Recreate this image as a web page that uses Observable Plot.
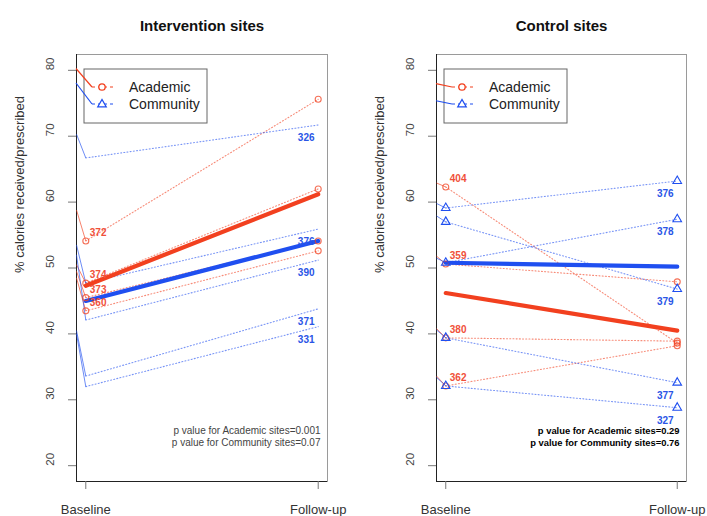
<!DOCTYPE html>
<html><head><meta charset="utf-8">
<script src="https://cdn.jsdelivr.net/npm/d3@7"></script>
<script src="https://cdn.jsdelivr.net/npm/@observablehq/plot@0.6"></script>
<style>
body{margin:0;background:#fff;font-family:"Liberation Sans",Arial,sans-serif}
#wrap{display:flex;width:707px;height:516px;overflow:hidden}
svg{display:block}
</style></head><body><div id="wrap"></div>
<script>
// ---------- data ----------
const timeLabels = ["Baseline", "Follow-up"];
const yTicks = [20, 30, 40, 50, 60, 70, 80];
const groups = ["Academic", "Community"];
const yAxisTitle = "% calories received/prescribed";

// Intervention sites
const intTitle = "Intervention sites";
const intAcadSites = ["372", "374", "373", "360"];
const intAcadBase = [54.1, 47.7, 45.5, 43.5];
const intAcadFollow = [75.6, 62.0, 54.1, 52.6];
const intAcadEdge = [58.8, 50.5, 49.5, 48.5];
const intCommSites = ["326", "376", "390", "371", "331"];
const intCommBase = [66.7, 47.7, 42.1, 33.6, 32.0];
const intCommFollow = [71.7, 55.9, 51.2, 43.8, 41.1];
const intCommEdge = [70.3, 53.5, 52.0, 40.5, 40.0];
const intAcadMean = [47.3, 61.2];
const intCommMean = [45.0, 54.1];
const intLegendEdge = [80.2, 78.0];
const intPText = ["p value for Academic sites=0.001", "p value for Community sites=0.07"];

// Control sites
const ctlTitle = "Control sites";
const ctlAcadSites = ["404", "359", "380", "362"];
const ctlAcadBase = [62.3, 50.6, 39.4, 32.1];
const ctlAcadFollow = [38.6, 47.9, 38.9, 38.2];
const ctlAcadEdge = [62.9, 51.8, 40.8, 33.6];
const ctlCommSites = ["376", "379", "378", "377", "327"];
const ctlCommBase = [59.1, 57.0, 50.8, 39.4, 32.1];
const ctlCommFollow = [63.2, 46.8, 57.4, 32.6, 28.8];
const ctlCommEdge = [59.8, 57.9, 51.5, 40.6, 33.4];
const ctlAcadMean = [46.2, 40.5];
const ctlCommMean = [50.8, 50.2];
const ctlLegendEdge = [77.9, 75.3];
const ctlPText = ["p value for Academic sites=0.29", "p value for Community sites=0.76"];

// ---------- styling ----------
const colors = {Academic: "#f2401f", Community: "#1f4ff0"};
const labelColors = {Academic: "#f0503a", Community: "#2a55e6"};
const pad = (a, b) => [a - (b - a) * 0.04, b + (b - a) * 0.04];
const xDomain = pad(1, 2);
const yDomain = pad(20, 80);
const FONT = "Liberation Sans, Arial, Helvetica, sans-serif";

function rows(group, sites, base, follow, edge) {
  return sites.map((s, i) => ({group, site: group + s, label: s, base: base[i], follow: follow[i], edge: edge[i]}));
}

function legendMark(edgeVals) {
  return (index, scales, values, dims) => {
    const ml = dims.marginLeft, mt = dims.marginTop;
    const g = d3.create("svg:g").attr("font-family", FONT);
    g.append("rect").attr("x", ml + 8).attr("y", mt + 15).attr("width", 123).attr("height", 54)
      .attr("fill", "white").attr("stroke", "#666").attr("stroke-width", 1);
    groups.forEach((grp, i) => {
      const cy = mt + 33 + i * 17;
      const c = colors[grp];
      g.append("line").attr("x1", ml).attr("y1", scales.y(edgeVals[i])).attr("x2", ml + 16).attr("y2", cy)
        .attr("stroke", c).attr("stroke-width", 1.2);
      g.append("line").attr("x1", ml + 16).attr("x2", ml + 37).attr("y1", cy).attr("y2", cy)
        .attr("stroke", c).attr("stroke-width", 1.2).attr("stroke-dasharray", "3,3");
      if (grp === "Academic") {
        g.append("circle").attr("cx", ml + 26).attr("cy", cy).attr("r", 3.2)
          .attr("fill", "white").attr("stroke", c).attr("stroke-width", 1.3);
      } else {
        const x = ml + 26;
        g.append("path").attr("d", `M${x},${cy - 4.5}L${x - 4.2},${cy + 2.8}L${x + 4.2},${cy + 2.8}Z`)
          .attr("fill", "white").attr("stroke", c).attr("stroke-width", 1.3);
      }
      g.append("text").attr("x", ml + 53).attr("y", cy).attr("dy", "0.35em")
        .attr("text-anchor", "start")
        .attr("font-size", 14).attr("fill", "#222").text(grp);
    });
    return g.node();
  };
}

function panel(cfg) {
  const acad = rows("Academic", cfg.acadSites, cfg.acadBase, cfg.acadFollow, cfg.acadEdge);
  const comm = rows("Community", cfg.commSites, cfg.commBase, cfg.commFollow, cfg.commEdge);
  const all = [...acad, ...comm];
  const lineData = all.flatMap(d => [{...d, t: 1, v: d.base}, {...d, t: 2, v: d.follow}]);
  const meanData = [
    {group: "Academic", t: 1, v: cfg.acadMean[0]}, {group: "Academic", t: 2, v: cfg.acadMean[1]},
    {group: "Community", t: 1, v: cfg.commMean[0]}, {group: "Community", t: 2, v: cfg.commMean[1]}
  ];
  const acadDots = acad.flatMap(d => [{t: 1, v: d.base}, {t: 2, v: d.follow}]);
  const commDots = cfg.commMarkers ? comm.flatMap(d => [{t: 1, v: d.base}, {t: 2, v: d.follow}]) : [];
  const pStyle = {
    frameAnchor: "bottom-right",
    fontSize: cfg.pBold ? 9.4 : 10,
    fill: cfg.pBold ? "#000" : "#444",
    fontWeight: cfg.pBold ? "bold" : "normal",
    textAnchor: "end"
  };

  return Plot.plot({
    width: cfg.width, height: 516,
    marginLeft: cfg.ml, marginRight: cfg.mr, marginTop: 54, marginBottom: 35,
    x: {domain: xDomain},
    y: {domain: yDomain},
    style: {fontFamily: FONT, background: "white", color: "#333", overflow: "visible"},
    marks: [
      Plot.frame({stroke: "#9a9a9a"}),
      Plot.ruleX([xDomain[0]], {stroke: "#222"}),
      Plot.ruleY([yDomain[0]], {stroke: "#222"}),
      Plot.axisY(yTicks, {tickSize: 8, tickFormat: () => "", label: null, stroke: "#777"}),
      Plot.text(yTicks, {y: d => d, frameAnchor: "left", dx: -26, rotate: -90, text: d => String(d), fontSize: 11.5, fill: "#444"}),
      Plot.text([yAxisTitle], {frameAnchor: "left", dx: -57, dy: 5, rotate: -90, fontSize: 13, fill: "#333"}),
      Plot.axisX([1, 2], {tickSize: 8, tickPadding: 15, tickFormat: d => timeLabels[d - 1], fontSize: 13, label: null, stroke: "#777", fill: "#333"}),
      Plot.text([cfg.title], {frameAnchor: "top", dy: -34, fontSize: 15, fontWeight: "bold", fill: "#111"}),
      // stubs from the frame edge
      Plot.link(all, {x1: xDomain[0], y1: "edge", x2: 1, y2: "base", stroke: d => colors[d.group], strokeWidth: 1, strokeOpacity: 0.65}),
      // individual site lines
      Plot.line(lineData, {x: "t", y: "v", z: "site", stroke: d => colors[d.group], strokeWidth: 1.1, strokeOpacity: 0.6, strokeDasharray: "1,2.2"}),
      // group trend lines
      Plot.line(meanData, {x: "t", y: "v", z: "group", stroke: d => colors[d.group], strokeWidth: 4.2}),
      Plot.dot(acadDots, {x: "t", y: "v", r: 3, stroke: colors.Academic, strokeWidth: 1.1, strokeOpacity: 0.75, fill: "none"}),
      Plot.dot(commDots, {x: "t", y: "v", r: 3.2, symbol: "triangle", stroke: colors.Community, strokeWidth: 1.1, fill: "none"}),
      // site labels
      Plot.text(acad, {x: 1, y: "base", text: "label", dx: 4, dy: -8, textAnchor: "start", fill: labelColors.Academic, fontSize: 10, fontWeight: "bold"}),
      Plot.text(comm, {x: 2, y: "follow", text: "label", dx: -12, dy: 13, fill: labelColors.Community, fontSize: 10, fontWeight: "bold"}),
      // p values
      Plot.text([cfg.pText[0]], {...pStyle, dx: -7, dy: -48}),
      Plot.text([cfg.pText[1]], {...pStyle, dx: -7, dy: -36}),
      legendMark(cfg.legendEdge)
    ]
  });
}

const wrap = document.getElementById("wrap");
wrap.appendChild(panel({
  title: intTitle, width: 354, ml: 76, mr: 27,
  acadSites: intAcadSites, acadBase: intAcadBase, acadFollow: intAcadFollow, acadEdge: intAcadEdge,
  commSites: intCommSites, commBase: intCommBase, commFollow: intCommFollow, commEdge: intCommEdge,
  acadMean: intAcadMean, commMean: intCommMean, legendEdge: intLegendEdge,
  pText: intPText, pBold: false, commMarkers: false
}));
wrap.appendChild(panel({
  title: ctlTitle, width: 353, ml: 82, mr: 21,
  acadSites: ctlAcadSites, acadBase: ctlAcadBase, acadFollow: ctlAcadFollow, acadEdge: ctlAcadEdge,
  commSites: ctlCommSites, commBase: ctlCommBase, commFollow: ctlCommFollow, commEdge: ctlCommEdge,
  acadMean: ctlAcadMean, commMean: ctlCommMean, legendEdge: ctlLegendEdge,
  pText: ctlPText, pBold: true, commMarkers: true
}));
</script></body></html>
